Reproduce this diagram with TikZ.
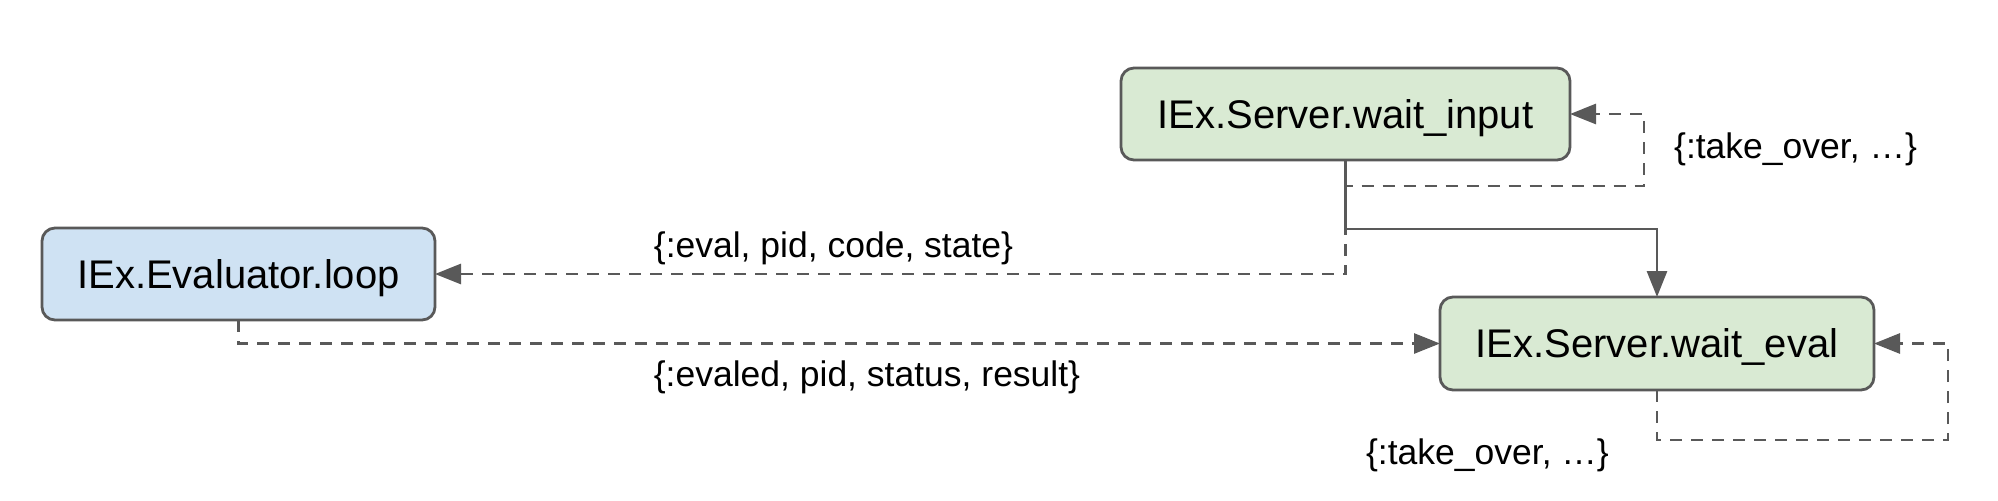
\documentclass[tikz,border=0pt]{standalone}
\usepackage{fontspec}
\setmainfont{Liberation Sans}
\usetikzlibrary{arrows.meta}
\definecolor{linec}{HTML}{595959}
\definecolor{greenfill}{HTML}{D9EAD3}
\definecolor{bluefill}{HTML}{CFE2F3}
\begin{document}
\begin{tikzpicture}[x=0.5pt,y=-0.5pt,
  box/.style={draw=linec, line width=1.4pt, rounded corners=6.5pt, inner sep=0pt, outer sep=0pt,
    minimum height=46pt, text height=14.3pt, text depth=0pt, font=\fontsize{20}{24}\selectfont},
  conn/.style={draw=linec, line width=1.4pt, -{Triangle[length=13pt,width=10pt]}},
  dconn/.style={conn, dash pattern=on 6pt off 4.5pt},
  lbl/.style={font=\fontsize{17.75}{21}\selectfont, inner sep=0pt, anchor=base}]
\useasboundingbox (0,0) rectangle (1998,500);
\node[box, fill=bluefill, minimum width=196.5pt] (ev) at (238.5,274) {IEx.Evaluator.loop};
\node[box, fill=greenfill, minimum width=224.5pt] (wi) at (1345.5,114) {IEx.Server.wait\_input};
\node[box, fill=greenfill, minimum width=217pt, minimum height=46.5pt] (we) at (1657,343.5) {IEx.Server.wait\_eval};

\coordinate (s1) at (1345.5,229);
\coordinate (d1) at (1345.5,274);
\coordinate (r1) at (1345.5,186);
\coordinate (r2) at (1644,186);
\coordinate (r3) at (1644,114);
\coordinate (e1) at (238.5,343.5);
\coordinate (q1) at (1657,440);
\coordinate (q2) at (1948,440);
\coordinate (q3) at (1948,343.5);

% wait_input -> wait_eval (solid)
\draw[conn] (wi.south) -- (s1) -| (we.north);
% wait_input -> Evaluator (dashed)
\draw[dconn] (wi.south) -- (d1) -- (ev.east);
% wait_input self loop
\draw[dconn] (wi.south) -- (r1) -- (r2) -- (r3) -- (wi.east);
% Evaluator -> wait_eval
\draw[dconn] (ev.south) -- (e1) -- (we.west);
% wait_eval self loop
\draw[dconn] (we.south) -- (q1) -- (q2) -- (q3) -- (we.east);

\node[lbl] (l1) at (833.5,257.5) {\{:eval, pid, code, state\}};
\node[lbl] (l2) at (867,386) {\{:evaled, pid, status, result\}};
\node[lbl] (l3) at (1795.5,158) {\{:take\_over, …\}};
\node[lbl] (l4) at (1487.5,464) {\{:take\_over, …\}};
\end{tikzpicture}
\end{document}
